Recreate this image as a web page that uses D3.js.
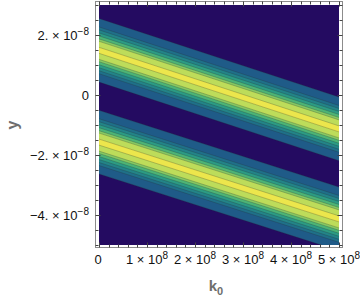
<!DOCTYPE html>
<html><head><meta charset="utf-8">
<script src="https://cdn.jsdelivr.net/npm/d3@7"></script>
<style>body{margin:0;background:#fff}svg{display:block}</style>
</head><body>
<script>
// ---- data ----
const kDomain = [0, 5e8];
const yDomain = [-5e-8, 3e-8];
const bandK = [0, 5e8];
// center (peak) line of each stripe at k=0 and k=5e8
const upperBand = [1.49e-8, -1.13e-8];
const lowerBand = [-1.57e-8, -4.13e-8];
// half-widths of contour boundaries, outermost first
const levelOffsets = [1.06e-8, 0.78e-8, 0.68e-8, 0.58e-8, 0.48e-8, 0.38e-8, 0.30e-8, 0.10e-8];
// fill colours, background first
const levelColors = ["#240b61", "#1f5b88", "#1f7089", "#238488", "#2c9b84", "#4db476", "#86c963", "#bddc5a", "#ece64c"];
const xTicks = [0, 1e8, 2e8, 3e8, 4e8, 5e8];
const xTickBase = ["0", "1 × 10", "2 × 10", "3 × 10", "4 × 10", "5 × 10"];
const xTickExp = ["", "8", "8", "8", "8", "8"];
const yTicks = [2e-8, 0, -2e-8, -4e-8];
const yTickBase = ["2. × 10", "0", "−2. × 10", "−4. × 10"];
const yTickExp = ["−8", "", "−8", "−8"];

const W = 360, H = 299;
const svg = d3.select("body").append("svg").attr("width", W).attr("height", H);
const x = d3.scaleLinear().domain(kDomain).range([99, 339]);
const y = d3.scaleLinear().domain(yDomain).range([245, 5]);

svg.append("defs").append("clipPath").attr("id", "clip")
  .append("rect").attr("x", 99).attr("y", 5).attr("width", 240).attr("height", 240);

const g = svg.append("g").attr("clip-path", "url(#clip)");
g.append("rect").attr("x", 99).attr("y", 5).attr("width", 240).attr("height", 240).attr("fill", levelColors[0]);

[upperBand, lowerBand].forEach(b => {
  levelOffsets.forEach((o, i) => {
    const pts = [
      [x(bandK[0]), y(b[0] + o)], [x(bandK[1]), y(b[1] + o)],
      [x(bandK[1]), y(b[1] - o)], [x(bandK[0]), y(b[0] - o)]
    ];
    g.append("polygon").attr("points", pts.map(p => p.join(",")).join(" "))
      .attr("fill", levelColors[i + 1]);
  });
  levelOffsets.forEach(o => {
    [1, -1].forEach(s => {
      g.append("line")
        .attr("x1", x(bandK[0])).attr("y1", y(b[0] + s * o))
        .attr("x2", x(bandK[1])).attr("y2", y(b[1] + s * o))
        .attr("stroke", "rgba(40,40,40,0.35)").attr("stroke-width", 0.7);
    });
  });
});

// frame
const fx0 = 95.5, fx1 = 342.5, fy0 = 1.5, fy1 = 247.5;
svg.append("rect").attr("x", fx0).attr("y", fy0).attr("width", fx1 - fx0).attr("height", fy1 - fy0)
  .attr("fill", "none").attr("stroke", "#8c8c8c").attr("stroke-width", 1);

const tickCol = "#444";
// x ticks
d3.range(0, 5e8 + 1, 2e7).forEach(v => {
  const major = Math.abs(v / 1e8 - Math.round(v / 1e8)) < 1e-6;
  const L = major ? 5 : 3;
  const px = Math.round(x(v)) + 0.5;
  svg.append("line").attr("x1", px).attr("x2", px).attr("y1", fy1).attr("y2", fy1 - L).attr("stroke", tickCol);
  svg.append("line").attr("x1", px).attr("x2", px).attr("y1", fy0).attr("y2", fy0 + L).attr("stroke", tickCol);
});
// y ticks
d3.range(-5e-8, 3e-8 + 1e-12, 0.5e-8).forEach(v => {
  const major = Math.abs(v / 2e-8 - Math.round(v / 2e-8)) < 1e-6;
  const L = major ? 5 : 3;
  const py = Math.round(y(v)) + 0.5;
  svg.append("line").attr("x1", fx0).attr("x2", fx0 + L).attr("y1", py).attr("y2", py).attr("stroke", tickCol);
  svg.append("line").attr("x1", fx1).attr("x2", fx1 - L).attr("y1", py).attr("y2", py).attr("stroke", tickCol);
});

const font = "Liberation Sans, Arial, sans-serif";
xTicks.forEach((v, i) => {
  const t = svg.append("text").attr("x", x(v) + (i ? 0 : -1)).attr("y", 264).attr("text-anchor", "middle")
    .attr("font-family", font).attr("font-size", 13).attr("fill", "#111");
  t.append("tspan").text(xTickBase[i]);
  if (xTickExp[i]) t.append("tspan").attr("dy", -5.5).attr("font-size", 10).text(xTickExp[i]);
});
yTicks.forEach((v, i) => {
  const t = svg.append("text").attr("x", 89).attr("y", y(v) + 5).attr("text-anchor", "end")
    .attr("font-family", font).attr("font-size", 13).attr("fill", "#111");
  t.append("tspan").text(yTickBase[i]);
  if (yTickExp[i]) t.append("tspan").attr("dy", -5.5).attr("font-size", 10).text(yTickExp[i]);
});

// axis labels
const xl = svg.append("text").attr("x", 216).attr("y", 291).attr("text-anchor", "middle")
  .attr("font-family", font).attr("font-size", 15).attr("font-weight", "bold").attr("fill", "#6e6e6e");
xl.append("tspan").text("k");
xl.append("tspan").attr("dy", 4).attr("font-size", 11).text("0");
svg.append("text").attr("transform", "translate(18,125) rotate(-90)").attr("text-anchor", "middle")
  .attr("font-family", font).attr("font-size", 16).attr("font-weight", "bold").attr("fill", "#6e6e6e").text("y");
</script>
</body></html>
